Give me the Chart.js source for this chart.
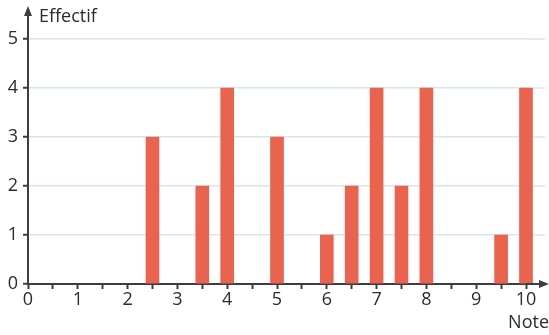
<!DOCTYPE html>
<html>
<head>
<meta charset="utf-8">
<script src="https://cdn.jsdelivr.net/npm/chart.js@4.4.0/dist/chart.umd.min.js"></script>
<style>
  html, body { margin: 0; padding: 0; background: #fff; }
  #wrap { width: 549px; height: 335px; position: relative; }
</style>
</head>
<body>
<div id="wrap"><canvas id="notesChart"></canvas></div>
<script>
"use strict";

// notes obtenues et effectifs
const notes = [2.5, 3.5, 4, 5, 6, 6.5, 7, 7.5, 8, 9.5, 10];
const effectifs = [3, 2, 4, 3, 1, 2, 4, 2, 4, 1, 4];
const yTicks = [0, 1, 2, 3, 4, 5];
const xTitle = 'Note';
const yTitle = 'Effectif';

const axisColor = '#3d3d3d';
const gridColor = '#d6e6ed';
const fontFamily = "'Open Sans', 'DejaVu Sans', sans-serif";

// prolonge le quadrillage jusqu'au bord droit
const gridExtend = {
  id: 'gridExtend',
  beforeDatasetsDraw(chart) {
    const { ctx, chartArea: { right }, scales: { y } } = chart;
    ctx.save();
    ctx.strokeStyle = gridColor;
    ctx.lineWidth = 1.5;
    yTicks.filter(v => v > 0).forEach(v => {
      const py = y.getPixelForValue(v);
      ctx.beginPath();
      ctx.moveTo(right, py);
      ctx.lineTo(545, py);
      ctx.stroke();
    });
    ctx.restore();
  }
};

// prolonge les axes avec une flèche et écrit leurs titres
const axisArrows = {
  id: 'axisArrows',
  afterDraw(chart) {
    const { ctx, chartArea: { left, right, top, bottom } } = chart;
    ctx.save();
    ctx.strokeStyle = axisColor;
    ctx.fillStyle = axisColor;
    ctx.lineWidth = 2;

    ctx.beginPath();
    ctx.moveTo(left, top);
    ctx.lineTo(left, 12);
    ctx.stroke();
    ctx.beginPath();
    ctx.moveTo(left, 6);
    ctx.lineTo(left - 4, 16);
    ctx.lineTo(left + 4, 16);
    ctx.closePath();
    ctx.fill();

    ctx.beginPath();
    ctx.moveTo(right, bottom);
    ctx.lineTo(543, bottom);
    ctx.stroke();
    ctx.beginPath();
    ctx.moveTo(549, bottom);
    ctx.lineTo(539, bottom - 4);
    ctx.lineTo(539, bottom + 4);
    ctx.closePath();
    ctx.fill();

    ctx.fillStyle = '#2b2b2b';
    ctx.font = '18px ' + fontFamily;
    ctx.textBaseline = 'middle';
    ctx.textAlign = 'left';
    ctx.fillText(yTitle, 39, 17);
    ctx.textAlign = 'right';
    ctx.fillText(xTitle, 549, 323);
    ctx.restore();
  }
};

const ctx = document.getElementById('notesChart');

new Chart(ctx, {
  type: 'bar',
  data: {
    datasets: [{
      data: notes.map((n, i) => ({ x: n, y: effectifs[i] })),
      backgroundColor: '#e9634e',
      borderWidth: 0,
      barThickness: 13,
      clip: false
    }]
  },
  options: {
    responsive: true,
    maintainAspectRatio: false,
    animation: false,
    layout: { padding: { top: 39, right: 23, left: 0, bottom: 0 } },
    plugins: {
      legend: { display: false },
      tooltip: { enabled: false }
    },
    scales: {
      x: {
        type: 'linear',
        min: 0,
        max: 10,
        offset: false,
        afterFit(scale) { scale.height = 51; },
        border: { color: axisColor, width: 2 },
        grid: {
          offset: false,
          drawOnChartArea: false,
          drawTicks: true,
          tickLength: 5,
          tickColor: axisColor,
          tickWidth: 2
        },
        ticks: {
          stepSize: 0.5,
          autoSkip: false,
          maxRotation: 0,
          padding: 0,
          color: '#2b2b2b',
          font: { size: 18, family: fontFamily },
          callback: (v) => Number.isInteger(v) ? String(v) : ''
        }
      },
      y: {
        min: 0,
        max: 5,
        afterFit(scale) { scale.width = 28; },
        afterBuildTicks(scale) { scale.ticks = yTicks.map(v => ({ value: v })); },
        border: { color: axisColor, width: 2 },
        grid: {
          color: (c) => c.tick && c.tick.value === 0 ? 'rgba(0,0,0,0)' : gridColor,
          lineWidth: 1.5,
          drawTicks: true,
          tickLength: 5,
          tickColor: axisColor,
          tickWidth: 2
        },
        ticks: {
          padding: 5,
          color: '#2b2b2b',
          font: { size: 18, family: fontFamily }
        }
      }
    }
  },
  plugins: [gridExtend, axisArrows]
});
</script>
</body>
</html>
